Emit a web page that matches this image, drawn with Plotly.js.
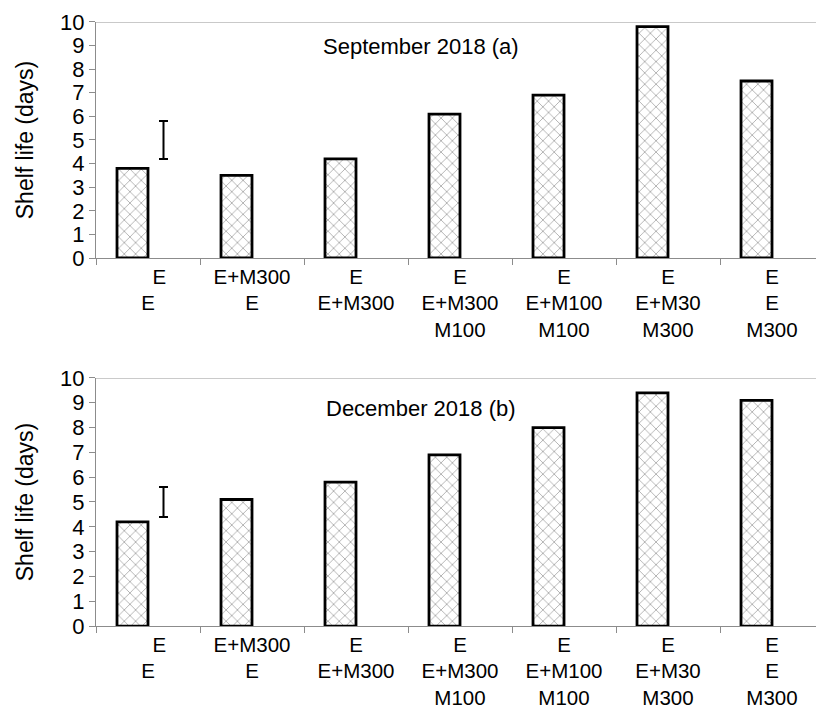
<!DOCTYPE html>
<html>
<head>
<meta charset="utf-8">
<script src="https://cdn.plot.ly/plotly-3.0.1.min.js"></script>
<style>html,body{margin:0;padding:0;background:#fff;}#chart{width:816px;height:711px;}</style>
</head>
<body>
<div id="chart"></div>
<script>
// Treatment categories (tick labels)
var treatments = [
  '\u00a0\u00a0\u00a0\u00a0E<br>E',
  'E+M300<br>E',
  'E<br>E+M300',
  'E<br>E+M300<br>M100',
  'E<br>E+M100<br>M100',
  'E<br>E+M30<br>M300',
  'E<br>E<br>M300'
];
// Shelf life (days)
var shelfSep = [3.8, 3.5, 4.2, 6.1, 6.9, 9.8, 7.5];
var shelfDec = [4.2, 5.1, 5.8, 6.9, 8.0, 9.4, 9.1];
// LSD bars (centre and half-length)
var lsdCentre = [5.0, 5.0];
var lsdHalf = [0.8, 0.6];
var panelTitles = ['September 2018 (a)', 'December 2018 (b)'];

var FONT = '"Liberation Sans", Arial, sans-serif';
var AX = '#8c8c8c';

function barTrace(vals, xa, ya) {
  return {
    type: 'bar', x: treatments, y: vals, xaxis: xa, yaxis: ya,
    marker: {
      color: '#ffffff',
      line: {color: '#000000', width: 2.8},
      pattern: {shape: 'x', fgcolor: '#8a8a8a', bgcolor: '#ffffff', size: 8, solidity: 0.15}
    },
    hoverinfo: 'skip', showlegend: false
  };
}
function lsdTrace(c, h, xa, ya) {
  return {
    type: 'bar', x: [treatments[0]], y: [c], xaxis: xa, yaxis: ya,
    marker: {color: 'rgba(0,0,0,0)', line: {width: 0}},
    error_y: {type: 'data', array: [h], visible: true, color: '#000000', thickness: 2, width: 4.5},
    hoverinfo: 'skip', showlegend: false
  };
}

var data = [
  barTrace(shelfSep, 'x', 'y'),
  lsdTrace(lsdCentre[0], lsdHalf[0], 'x', 'y'),
  barTrace(shelfDec, 'x2', 'y2'),
  lsdTrace(lsdCentre[1], lsdHalf[1], 'x2', 'y2')
];

function xax(anchor) {
  return {
    anchor: anchor, domain: [0, 1], type: 'category',
    categoryorder: 'array', categoryarray: treatments,
    range: [-0.5, 6.423],
    showline: true, linecolor: AX, linewidth: 1,
    ticks: 'outside', tickson: 'boundaries', ticklen: 6, tickcolor: AX,
    showgrid: false, zeroline: false,
    tickangle: 0,
    tickfont: {family: FONT, size: 20.5, color: '#000'}
  };
}
function yax(anchor, dom) {
  return {
    anchor: anchor, domain: dom, range: [0, 10], dtick: 1,
    showline: true, linecolor: AX, linewidth: 1,
    ticks: 'outside', ticklen: 6, tickcolor: AX,
    showgrid: false, zeroline: false,
    tickfont: {family: FONT, size: 22, color: '#000'},
    title: {text: 'Shelf life (days)', font: {family: FONT, size: 23, color: '#000'}, standoff: 20}
  };
}

var layout = {
  width: 816, height: 711,
  margin: {l: 96, r: 0, t: 0, b: 0},
  paper_bgcolor: '#fff', plot_bgcolor: '#fff',
  barmode: 'group', bargap: 0.404, bargroupgap: 0,
  font: {family: FONT, color: '#000'},
  xaxis: xax('y'),
  yaxis: yax('x', [0.6371, 0.9691]),
  xaxis2: xax('y2'),
  yaxis2: yax('x2', [0.1195, 0.4684]),
  shapes: [
    {type: 'line', xref: 'paper', x0: 0, x1: 1, yref: 'y', y0: 10, y1: 10, line: {color: AX, width: 1}},
    {type: 'line', xref: 'paper', x0: 0, x1: 1, yref: 'y2', y0: 10, y1: 10, line: {color: AX, width: 1}}
  ],
  annotations: [
    {text: panelTitles[0], xref: 'paper', yref: 'paper', x: 0.451, y: 0.934, showarrow: false,
     font: {family: FONT, size: 22, color: '#000'}, xanchor: 'center', yanchor: 'middle'},
    {text: panelTitles[1], xref: 'paper', yref: 'paper', x: 0.451, y: 0.426, showarrow: false,
     font: {family: FONT, size: 22, color: '#000'}, xanchor: 'center', yanchor: 'middle'}
  ]
};

Plotly.newPlot('chart', data, layout, {staticPlot: true, displayModeBar: false});
</script>
</body>
</html>
